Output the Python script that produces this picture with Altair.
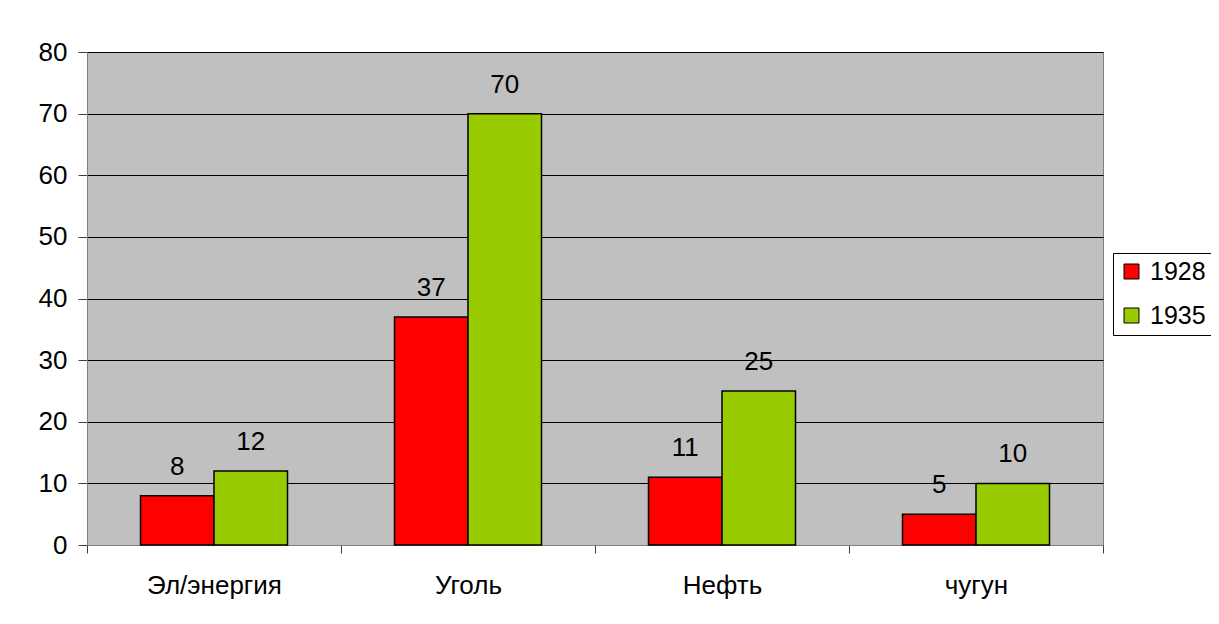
import altair as alt
import pandas as pd

categories = ["Эл/энергия", "Уголь", "Нефть", "чугун"]
years = ["1928", "1935"]
values_1928 = [8, 37, 11, 5]
values_1935 = [12, 70, 25, 10]
y_ticks = [0, 10, 20, 30, 40, 50, 60, 70, 80]
colors = ["#FF0000", "#99CC00"]

rows = []
for i, c in enumerate(categories):
    rows.append({"cat": c, "year": years[0], "value": values_1928[i]})
    rows.append({"cat": c, "year": years[1], "value": values_1935[i]})
df = pd.DataFrame(rows)

FONT = "Liberation Sans"
FS = 26

x = alt.X(
    "cat:N", sort=categories, title=None,
    scale=alt.Scale(paddingInner=0, paddingOuter=0),
    axis=alt.Axis(labelAngle=0, labelFontSize=FS, labelFont=FONT, labelColor="black",
                  tickBand="extent", tickSize=8, tickColor="#404040",
                  domainColor="#808080", labelPadding=19, grid=False),
)
xo = alt.XOffset("year:N", sort=years, scale=alt.Scale(paddingInner=0, paddingOuter=0.728))
y = alt.Y(
    "value:Q", title=None,
    scale=alt.Scale(domain=[0, 80], nice=False),
    axis=alt.Axis(values=y_ticks, labelFontSize=FS, labelFont=FONT, labelColor="black",
                  tickSize=9, tickColor="#404040", domainColor="#808080",
                  labelPadding=11, grid=True, gridColor="#000000", gridOpacity=1, gridWidth=1),
)

bars = alt.Chart(df).mark_bar(stroke="black", strokeWidth=1.5).encode(
    x=x, xOffset=xo, y=y,
    color=alt.Color(
        "year:N", sort=years,
        scale=alt.Scale(domain=years, range=colors),
        legend=alt.Legend(
            title=None, orient="none", legendX=1026, legendY=201,
            fillColor="white", strokeColor="black", padding=6,
            symbolType="square", symbolSize=225, symbolStrokeColor="black",
            symbolStrokeWidth=1, labelFontSize=25, labelFont=FONT, labelColor="black",
            rowPadding=18, labelOffset=6,
        ),
    ),
)

labels = alt.Chart(df).mark_text(
    dy=-29, fontSize=FS, font=FONT, baseline="middle", color="black"
).encode(x=x, xOffset=xo, y=y, text="value:Q")

chart = alt.layer(bars, labels).properties(
    width=1016, height=493,
    autosize=alt.AutoSizeParams(type="none"),
    padding={"left": 79, "top": 44, "right": 108, "bottom": 71},
    background="white",
).configure_view(fill="#C0C0C0", stroke="#808080", strokeWidth=1)

chart.save("out.html", embed_options={"renderer": "svg", "actions": False})
